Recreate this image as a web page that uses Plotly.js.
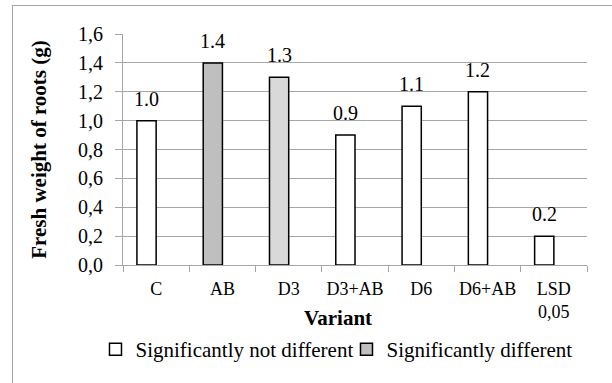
<!DOCTYPE html>
<html>
<head>
<meta charset="utf-8">
<script src="https://cdn.plot.ly/plotly-3.0.1.min.js"></script>
<style>
  html, body { margin: 0; padding: 0; background: #ffffff; overflow: hidden; }
  #wrap { position: relative; width: 612px; height: 383px; overflow: hidden; }
  #chart { position: absolute; left: 0; top: 0; width: 612px; height: 383px; }
  #frame { position: absolute; left: 12px; top: 5px; width: 640px; height: 420px;
           border: 1.5px solid #a6a6a6; pointer-events: none; }
</style>
</head>
<body>
<div id="wrap">
  <div id="chart"></div>
  <div id="frame"></div>
</div>
<script>
// ---- data ----
const categories = ['C', 'AB', 'D3', 'D3+AB', 'D6', 'D6+AB', 'LSD<br>0,05'];
const values = [1.0, 1.4, 1.3, 0.9, 1.1, 1.2, 0.2];
// group of each bar: 'ns' = significantly not different, 'sig' = significantly different, 'sigLight' = light grey
const groups = ['ns', 'sig', 'sigLight', 'ns', 'ns', 'ns', 'ns'];
const seriesNames = { ns: 'Significantly not different', sig: 'Significantly different' };
const yTitle = 'Fresh weight of roots (g)';
const xTitle = 'Variant';

// ---- styling ----
const FONT = 'Liberation Serif, Times New Roman, serif';
const fills = { ns: '#ffffff', sig: '#bfbfbf', sigLight: '#d9d9d9' };
const BAR_W = 0.29;
const BAR_OFFSET = -0.29;
const GRID = '#a6a6a6';

function traceFor(key, showlegend) {
  return {
    type: 'bar',
    name: seriesNames[key] || '',
    x: categories,
    y: values.map((v, i) => groups[i] === key ? v : null),
    width: BAR_W,
    offset: BAR_OFFSET,
    marker: { color: fills[key], line: { color: '#000000', width: 1.5 } },
    showlegend: showlegend,
    hoverinfo: 'skip'
  };
}

const data = [traceFor('ns', true), traceFor('sig', true), traceFor('sigLight', false)];

const annotations = values.map((v, i) => ({
  x: i + BAR_OFFSET + BAR_W / 2,
  y: v,
  xref: 'x', yref: 'y',
  text: v.toFixed(1),
  showarrow: false,
  xanchor: 'center', yanchor: 'bottom',
  yshift: 9,
  font: { family: FONT, size: 20, color: '#000000' }
}));

annotations.push({
  x: 0.4644, y: -0.229, xref: 'paper', yref: 'paper',
  text: '<b>' + xTitle + '</b>',
  showarrow: false, xanchor: 'center', yanchor: 'middle',
  font: { family: FONT, size: 21, color: '#000000' }
});

const layout = {
  width: 612, height: 383,
  margin: { l: 123, r: 25, t: 34, b: 118 },
  paper_bgcolor: '#ffffff', plot_bgcolor: '#ffffff',
  font: { family: FONT, color: '#000000' },
  separators: ', ',
  barmode: 'overlay',
  showlegend: true,
  xaxis: {
    type: 'category',
    range: [-0.5, categories.length - 0.5],
    tickson: 'boundaries',
    ticks: 'outside', ticklen: 6, tickcolor: GRID, tickwidth: 1,
    showline: true, linecolor: GRID, linewidth: 1,
    showgrid: false, zeroline: false,
    tickfont: { family: FONT, size: 18, color: '#000000' },
    ticklabelstandoff: 7,
    fixedrange: true
  },
  yaxis: {
    range: [0, 1.6], dtick: 0.2, tick0: 0,
    tickformat: '.1f',
    ticks: 'outside', ticklen: 7, tickcolor: GRID, tickwidth: 1,
    showline: true, linecolor: GRID, linewidth: 1,
    showgrid: true, gridcolor: GRID, gridwidth: 1,
    zeroline: false,
    tickfont: { family: FONT, size: 20, color: '#000000' },
    ticklabelstandoff: 8,
    title: { text: '<b>' + yTitle + '</b>', font: { family: FONT, size: 21, color: '#000000' }, standoff: 25 },
    fixedrange: true
  },
  legend: {
    orientation: 'h',
    x: -0.0593, xanchor: 'left',
    y: -0.366, yanchor: 'middle',
    entrywidth: 206, entrywidthmode: 'pixels',
    font: { family: FONT, size: 21, color: '#000000' },
    bgcolor: 'rgba(0,0,0,0)',
    itemclick: false, itemdoubleclick: false
  },
  annotations: annotations
};

Plotly.newPlot('chart', data, layout, { displayModeBar: false, staticPlot: true });
</script>
</body>
</html>
